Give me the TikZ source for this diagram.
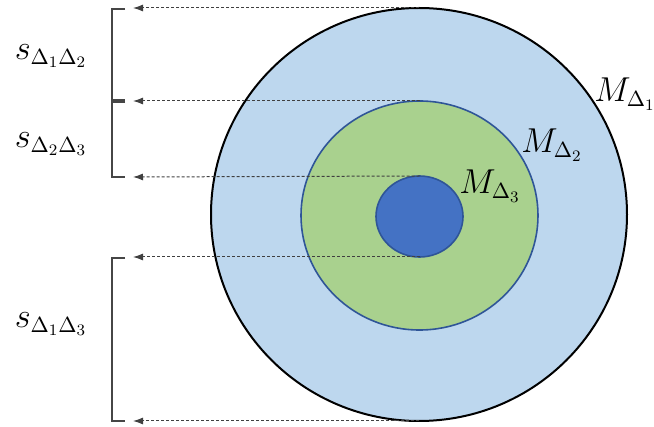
\documentclass[tikz,border=0pt]{standalone}
\usepackage{amsmath}
\usetikzlibrary{positioning}
\usetikzlibrary{arrows.meta}
\usetikzlibrary{shapes.geometric}
\definecolor{lightblue}{HTML}{BDD7EE}
\definecolor{lightgreen}{HTML}{A9D18E}
\definecolor{midblue}{HTML}{4472C4}
\definecolor{edgeblue}{HTML}{2F5597}
\definecolor{bracketgray}{RGB}{70,70,70}

\begin{document}
\begin{tikzpicture}[x=0.5pt, y=-0.5pt,
    region/.style={ellipse, inner sep=0pt, outer sep=0pt},
    gap/.style={dashed, dash pattern=on 1.5pt off 1pt, line width=0.5pt, draw=black!75,
                -{Latex[length=5pt, width=3.5pt]}},
    brace/.style={line width=1.1pt, draw=bracketgray},
    lbl/.style={font=\fontsize{16}{19}\selectfont}]
    \useasboundingbox (0,0) rectangle (654,427);

    % Nested regions
    \node[region, draw=black, line width=1pt, fill=lightblue,
          minimum width=208pt, minimum height=206.5pt] (outer) at (419,214.5) {};
    \node[region, draw=edgeblue, line width=0.8pt, fill=lightgreen,
          minimum width=118.5pt, minimum height=114.5pt] (middle) at (419.5,215.5) {};
    \node[region, draw=edgeblue, line width=0.8pt, fill=midblue,
          minimum width=43.5pt, minimum height=40.5pt] (inner) at (419.5,216.5) {};

    % Region labels
    \node[lbl] (m1) at (625,94) {$M_{\Delta_1}$};
    \node[lbl] (m2) at (552,145) {$M_{\Delta_2}$};
    \node[lbl] (m3) at (490,186) {$M_{\Delta_3}$};

    % Arrow ends on the left
    \coordinate (e1) at (133,8);
    \coordinate (e2) at (133,101);
    \coordinate (e3) at (133,177);
    \coordinate (e4) at (133,257);
    \coordinate (e5) at (133,421);

    % Dashed projections
    \draw[gap] (outer.north) -- (e1);
    \draw[gap] (middle.north) -- (e2);
    \draw[gap] (inner.north) -- (e3);
    \draw[gap] (inner.south) -- (e4);
    \draw[gap] (outer.south) -- (e5);

    % Brackets
    \draw[brace] (125,9) -- (112,9) -- (112,100) -- (125,100);
    \draw[brace] (125,102) -- (112,102) -- (112,177) -- (125,177);
    \draw[brace] (125,258) -- (112,258) -- (112,421) -- (125,421);

    % Distance labels
    \node[lbl] (s12) at (51,56) {$s_{\Delta_1\Delta_2}$};
    \node[lbl] (s23) at (51,144) {$s_{\Delta_2\Delta_3}$};
    \node[lbl] (s13) at (51,324) {$s_{\Delta_1\Delta_3}$};
\end{tikzpicture}
\end{document}
